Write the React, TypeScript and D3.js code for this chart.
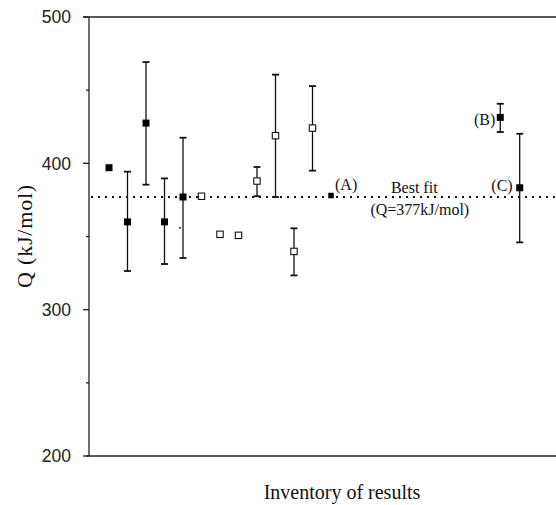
import React from 'react';
import * as d3 from 'd3';

// inventory position (order of result) and activation energy Q (kJ/mol)
const solidIdx = [1, 2, 3, 4, 5, 13, 22.15, 23.2];
const solidQ = [397, 360, 427.5, 360, 377, 378, 431.4, 383.3];
const solidLo = [null, 326.4, 385.4, 331.2, 335.3, null, 421.4, 346];
const solidHi = [null, 394.3, 469.2, 389.7, 417.5, null, 440.7, 420.2];

const openIdx = [6, 7, 8, 9, 10, 11, 12];
const openQ = [377.5, 351.5, 350.8, 387.9, 418.9, 339.8, 424.1];
const openLo = [null, null, null, 377.5, 377, 323.4, 395];
const openHi = [null, null, null, 397.5, 460.6, 355.6, 452.8];

const strayIdx = [4.84];
const strayQ = [356];

const bestFit = 377;
const majorTicks = [200, 300, 400, 500];
const minorTicks = [250, 350, 450];

const W = 556;
const H = 505;
const serif = '"Liberation Serif", "Times New Roman", serif';
const sans = '"Liberation Sans", Arial, sans-serif';

export default function App() {
  const x = d3.scaleLinear().domain([0, 25]).range([90.5, 553]);
  const y = d3.scaleLinear().domain([200, 500]).range([456, 17]);
  const left = 89;
  const yFit = y(bestFit);

  const errBar = (xi: number, lo: number | null, hi: number | null, key: string) => {
    if (lo == null || hi == null) return null;
    const cx = x(xi);
    return (
      <g key={key} stroke="#111" strokeWidth={1.3}>
        <line x1={cx} x2={cx} y1={y(lo)} y2={y(hi)} />
        <line x1={cx - 3.5} x2={cx + 3.5} y1={y(lo)} y2={y(lo)} strokeWidth={1.8} />
        <line x1={cx - 3.5} x2={cx + 3.5} y1={y(hi)} y2={y(hi)} strokeWidth={1.8} />
      </g>
    );
  };

  return (
    <div style={{ position: 'absolute', left: 0, top: 0 }}>
      <svg width={W} height={H} style={{ display: 'block', background: '#fff' }}>
        {/* frame */}
        <g stroke="#222" strokeWidth={1.3}>
          <line x1={left} x2={left} y1={y(500)} y2={y(200)} />
          <line x1={83} x2={W} y1={y(500)} y2={y(500)} />
          <line x1={86} x2={W} y1={y(200)} y2={y(200)} />
          {majorTicks.map(t => (
            <line key={'M' + t} x1={left - 6} x2={left} y1={y(t)} y2={y(t)} />
          ))}
          {minorTicks.map(t => (
            <line key={'m' + t} x1={left - 3} x2={left} y1={y(t)} y2={y(t)} />
          ))}
        </g>
        {majorTicks.map(t => (
          <text key={'t' + t} x={71} y={y(t)} dy="0.36em" textAnchor="end"
            fontFamily={sans} fontSize={17.5} fill="#222">{t}</text>
        ))}

        {/* best fit line */}
        <line x1={left + 2} x2={W} y1={yFit} y2={yFit} stroke="#111"
          strokeWidth={2} strokeDasharray="2 5" />

        {/* error bars */}
        {solidIdx.map((xi, i) => errBar(xi, solidLo[i], solidHi[i], 's' + i))}
        {openIdx.map((xi, i) => errBar(xi, openLo[i], openHi[i], 'o' + i))}

        {/* markers */}
        {solidIdx.map((xi, i) => {
          const s = i === 5 ? 5.5 : 7;
          return (
            <rect key={'sm' + i} x={x(xi) - s / 2} y={y(solidQ[i]) - s / 2}
              width={s} height={s} fill="#000" />
          );
        })}
        {openIdx.map((xi, i) => (
          <rect key={'om' + i} x={x(xi) - 3.2} y={y(openQ[i]) - 3.2}
            width={6.4} height={6.4} fill="#fff" stroke="#111" strokeWidth={1.1} />
        ))}
        {strayIdx.map((xi, i) => (
          <circle key={'st' + i} cx={x(xi)} cy={y(strayQ[i])} r={1} fill="#222" />
        ))}

        {/* annotations */}
        <g fontFamily={serif} fontSize={16} fill="#111">
          <text x={x(solidIdx[5]) + 4} y={y(solidQ[5]) - 6}>(A)</text>
          <text x={x(solidIdx[6]) - 5} y={y(solidQ[6]) + 8} textAnchor="end">(B)</text>
          <text x={x(solidIdx[7]) - 7} y={yFit - 6} textAnchor="end">(C)</text>
          <text x={x(17.5)} y={yFit - 4} textAnchor="middle">Best fit</text>
          <text x={x(17.8)} y={yFit + 18} textAnchor="middle">(Q=377kJ/mol)</text>
        </g>

        {/* axis titles */}
        <text x={342} y={499} textAnchor="middle" fontFamily={serif} fontSize={20} fill="#111">
          Inventory of results
        </text>
        <text transform={`translate(32,236) rotate(-90)`} textAnchor="middle"
          fontFamily={serif} fontSize={22} fill="#111" letterSpacing={0.8}>
          Q (kJ/mol)
        </text>
      </svg>
    </div>
  );
}
